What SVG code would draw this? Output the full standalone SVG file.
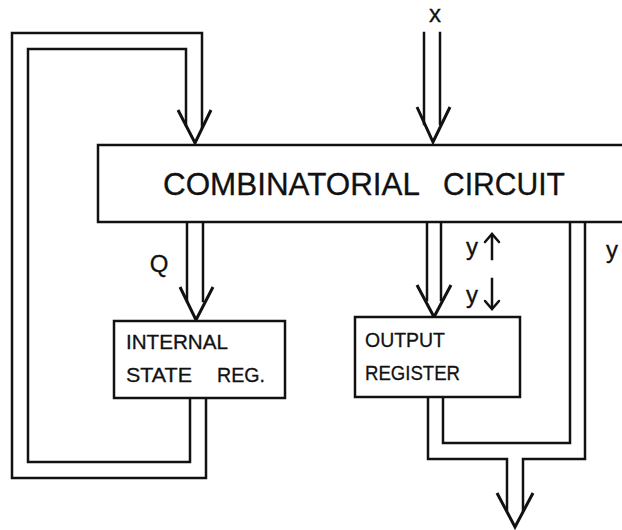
<svg xmlns="http://www.w3.org/2000/svg" width="622" height="530" viewBox="0 0 622 530">
<style>
.box{fill:#fff;stroke:#111;stroke-width:2.5}
.ln{fill:none;stroke:#111;stroke-width:2.5;stroke-linejoin:miter;stroke-linecap:square}
.wing{fill:none;stroke:#111;stroke-width:3;stroke-linejoin:miter}
.t{font-family:"Liberation Sans",Arial,sans-serif;fill:#111;stroke:#111;stroke-width:0.3}
.big{font-size:31px}
.mid{font-size:21px}
.lab{font-size:24px}
</style>
<rect width="622" height="530" fill="#fff"/>
<g id="connectors">
  <polyline class="ln" points="206,398 206,478 12,478 12,33 202,33 202,127"/>
  <polyline class="ln" points="190,398 190,462 28,462 28,49 186,49 186,125"/>
  <polyline class="wing" points="178,110 195,143 211,110"/>
  <line class="ln" x1="424" y1="33" x2="424" y2="124"/>
  <line class="ln" x1="440" y1="33" x2="440" y2="124"/>
  <polyline class="wing" points="417,107 433,142 450,107"/>
  <text class="t lab" x="435" y="22" text-anchor="middle">x</text>
  <line class="ln" x1="187" y1="223" x2="187" y2="301"/>
  <line class="ln" x1="203" y1="223" x2="203" y2="301"/>
  <polyline class="wing" points="180,287 196,320 213,287"/>
  <text class="t lab" x="159" y="272" text-anchor="middle">Q</text>
  <line class="ln" x1="427" y1="223" x2="427" y2="300"/>
  <line class="ln" x1="441" y1="223" x2="441" y2="300"/>
  <polyline class="wing" points="417,285 434,317 451,285"/>
  <text class="t lab" x="466" y="255">y</text>
  <line class="ln" x1="492" y1="235" x2="492" y2="259"/>
  <polyline class="ln" points="485,242 492,234 499,242" style="stroke-linecap:round"/>
  <text class="t lab" x="466" y="303">y</text>
  <line class="ln" x1="492" y1="279" x2="492" y2="308"/>
  <polyline class="ln" points="485,301 492,309 499,301" style="stroke-linecap:round"/>
  <text class="t lab" x="606" y="258">y</text>
  <polyline class="ln" points="428,397 428,459 507,459 507,510"/>
  <polyline class="ln" points="443,397 443,443 570,443 570,223"/>
  <polyline class="ln" points="585,223 585,459 523,459 523,510"/>
  <polyline class="wing" points="497,493 515,527 533,493"/>
</g>
<g id="combinatorial-circuit">
  <rect class="box" x="98" y="145" width="560" height="77"/>
  <text class="t big" x="163" y="195" textLength="257" lengthAdjust="spacingAndGlyphs">COMBINATORIAL</text>
  <text class="t big" x="443" y="195" textLength="122" lengthAdjust="spacingAndGlyphs">CIRCUIT</text>
</g>
<g id="internal-state-reg">
  <rect class="box" x="114" y="321" width="171" height="77"/>
  <text class="t mid" x="126" y="349" textLength="102" lengthAdjust="spacingAndGlyphs">INTERNAL</text>
  <text class="t mid" x="126" y="382" textLength="66" lengthAdjust="spacingAndGlyphs">STATE</text>
  <text class="t mid" x="217" y="382" textLength="48" lengthAdjust="spacingAndGlyphs">REG.</text>
</g>
<g id="output-register">
  <rect class="box" x="355" y="317" width="165" height="80"/>
  <text class="t mid" x="365" y="347" textLength="80" lengthAdjust="spacingAndGlyphs">OUTPUT</text>
  <text class="t mid" x="365" y="380" textLength="95" lengthAdjust="spacingAndGlyphs">REGISTER</text>
</g>
</svg>
